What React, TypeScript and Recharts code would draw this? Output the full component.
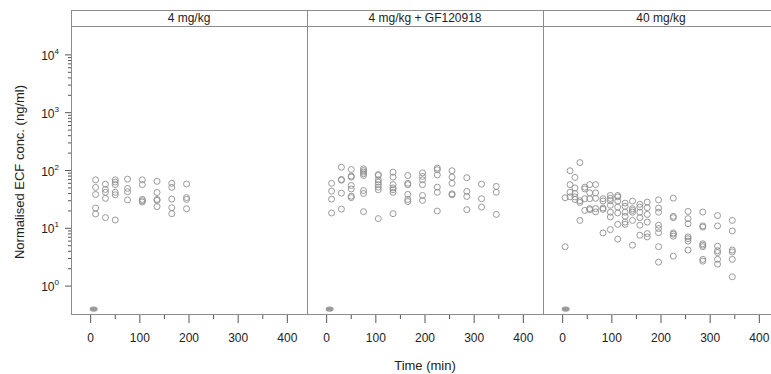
import { ScatterChart, Scatter, XAxis, YAxis } from "recharts";

const panelTitles = ["4 mg/kg", "4 mg/kg + GF120918", "40 mg/kg"];

// sampling times (min) and normalised ECF concentrations (ng/ml) per time point
const timesLow = [10, 30, 50, 75, 105, 135, 165, 195];
const concLow = [
  [69, 51, 38.5, 22.4, 17.7],
  [58, 47, 42, 33, 15.3],
  [69, 63, 57, 42, 38, 13.9],
  [71, 49, 43, 31],
  [69, 57, 31.6, 28.5, 30],
  [65, 41.7, 31.6, 30.4, 23.7],
  [60, 51, 32, 22.7, 17.9],
  [58.5, 34, 31.6, 21.8],
];

const timesInhib = [10, 30, 50, 75, 105, 135, 165, 195, 225, 255, 285, 315, 345];
const concInhib = [
  [60, 44, 32, 18.4],
  [114, 70, 68, 40.6, 21.5],
  [104, 80, 77, 55, 48, 36, 34],
  [107, 100, 94, 88, 82, 45, 40, 19.4],
  [85, 82, 69, 63, 57, 51.5, 46.5, 14.7],
  [93.5, 77, 57, 50, 46.5, 42, 17.9],
  [82, 60, 57, 38.6, 31.6, 29],
  [91, 79, 69, 57, 37, 30.4],
  [110, 103, 84, 51.5, 42, 19.9],
  [99, 77, 60, 39.6, 38],
  [75, 43.5, 35.6, 21],
  [58, 32.5, 23.3],
  [53, 42, 17.4],
];

const timesHigh = [5, 15, 25, 35, 45, 55, 67, 82, 97, 112, 127, 142, 157, 172, 195, 225, 255, 285, 315, 345];
const concHigh = [
  [33.8, 4.8],
  [99, 57, 42, 35],
  [76, 50, 40, 35, 31.6],
  [137, 30, 28, 13.7],
  [51.5, 48, 32.5, 20.4],
  [57, 41, 32.5, 21.9, 21],
  [57, 41, 33, 21.9, 19.2],
  [32.5, 29.6, 22.4, 21.3, 8.3],
  [37, 33, 30, 25, 19, 15.7, 9.5],
  [37, 35, 29.6, 23.3, 18.4, 11.7, 6.5],
  [27.3, 24, 19, 16.1, 12.8, 11.7],
  [29.6, 21.9, 20.4, 19, 13.7, 5.1],
  [26, 23.3, 19, 15.3, 11.3, 7.6],
  [28.4, 22.7, 17.4, 12.8, 8.1, 7.1],
  [31, 22.4, 19, 11.3, 9.9, 8.4, 4.8, 2.6],
  [33.3, 16.1, 15.3, 8.3, 7.9, 7.3, 3.3],
  [19.6, 14.7, 12, 7.1, 6.6, 6, 4.2],
  [19.1, 11, 10.5, 5.4, 5.1, 4.8, 2.9, 2.7],
  [16.6, 11, 4.9, 4.1, 3.8, 2.9, 2.4],
  [13.7, 9, 4.2, 3.9, 2.9, 1.45],
];

// below-limit marker drawn near t = 0 in each panel
const blqTime = [6];
const blqConc = [0.4];

const xTicks = [0, 50, 100, 150, 200, 250, 300, 350, 400];
const yDecades = [1, 10, 100, 1000, 10000];
const yMinorSteps = [2, 3, 4, 5, 6, 7, 8, 9];

const Y_DOMAIN: [number, number] = [Math.pow(10, -0.5), Math.pow(10, 4.5)];
const X_DOMAIN: [number, number] = [-40, 440];

const yTicks = yDecades.flatMap((d, i) =>
  i < yDecades.length - 1 ? [d, ...yMinorSteps.map((m) => m * d)] : [d]
);

const toRows = (times: number[], conc: number[][]) =>
  times.flatMap((t, i) => conc[i].map((c) => ({ t, c })));

const blqRows = blqTime.map((t, i) => ({ t, c: blqConc[i] }));

const FONT = "'Liberation Sans', Arial, sans-serif";
const FRAME = "#8c8c8c";
const TEXT = "#222";

const OpenCircle = (p: any) => (
  <circle cx={p.cx} cy={p.cy} r={3} fill="none" stroke="#8f8f8f" strokeWidth={0.9} />
);

const Blob = (p: any) => <ellipse cx={p.cx} cy={p.cy} rx={4} ry={2.6} fill="#9a9a9a" />;

const XTick = (p: any) => {
  const v = p.payload.value;
  const major = v % 100 === 0;
  return (
    <g>
      <line x1={p.x} x2={p.x} y1={p.y} y2={p.y + (major ? 8 : 4)} stroke="#555" />
      {major && (
        <text x={p.x} y={p.y + 27} textAnchor="middle" fontSize={12} fontFamily={FONT} fill={TEXT}>
          {v}
        </text>
      )}
    </g>
  );
};

const YTick = (p: any) => {
  const v = p.payload.value;
  const exp = Math.log10(v);
  const major = Math.abs(exp - Math.round(exp)) < 1e-6;
  return (
    <g>
      <line x1={p.x - (major ? 6 : 3)} x2={p.x} y1={p.y} y2={p.y} stroke="#555" />
      {major && (
        <text x={p.x - 12} y={p.y + 5} textAnchor="end" fontSize={12} fontFamily={FONT} fill={TEXT}>
          10
          <tspan fontSize={8} dy={-6}>
            {Math.round(exp)}
          </tspan>
        </text>
      )}
    </g>
  );
};

function Panel({
  left,
  width,
  rows,
  showY,
}: {
  left: number;
  width: number;
  rows: { t: number; c: number }[];
  showY: boolean;
}) {
  return (
    <div style={{ position: "absolute", left, top: 0 }}>
      <ScatterChart width={width} height={374} margin={{ top: 26, right: 0, bottom: 29, left: 0 }}>
        <XAxis
          type="number"
          dataKey="t"
          domain={X_DOMAIN}
          allowDataOverflow
          ticks={xTicks}
          interval={0}
          tick={<XTick />}
          tickLine={false}
          axisLine={false}
          tickSize={0}
          tickMargin={0}
          height={30}
        />
        <YAxis
          type="number"
          dataKey="c"
          scale="log"
          domain={Y_DOMAIN}
          allowDataOverflow
          ticks={yTicks}
          interval={0}
          tick={<YTick />}
          tickLine={false}
          axisLine={false}
          tickSize={0}
          tickMargin={0}
          width={71}
          hide={!showY}
        />
        <Scatter data={rows} shape={OpenCircle} isAnimationActive={false} />
        <Scatter data={blqRows} shape={Blob} isAnimationActive={false} />
      </ScatterChart>
    </div>
  );
}

export default function App() {
  const panelLefts = [71, 307, 543];
  const panelW = 236;
  return (
    <div
      style={{
        position: "absolute",
        left: 0,
        top: 0,
        width: 771,
        height: 374,
        overflow: "hidden",
        background: "#fff",
        fontFamily: FONT,
      }}
    >
      <Panel left={0} width={307} rows={toRows(timesLow, concLow)} showY />
      <Panel left={307} width={panelW} rows={toRows(timesInhib, concInhib)} showY={false} />
      <Panel left={543} width={panelW} rows={toRows(timesHigh, concHigh)} showY={false} />

      {/* frame: strips + plot boxes */}
      <div
        style={{
          position: "absolute",
          left: 71,
          top: 10,
          width: panelW * 3,
          height: 305,
          border: `1px solid ${FRAME}`,
          boxSizing: "border-box",
          pointerEvents: "none",
        }}
      />
      <div style={{ position: "absolute", left: 71, top: 26, width: panelW * 3, height: 1, background: FRAME }} />
      {panelLefts.slice(1).map((l) => (
        <div key={l} style={{ position: "absolute", left: l, top: 10, width: 1, height: 305, background: FRAME }} />
      ))}
      {panelTitles.map((t, i) => (
        <div
          key={t}
          style={{
            position: "absolute",
            left: panelLefts[i],
            top: 11,
            width: panelW,
            height: 15,
            lineHeight: "15px",
            textAlign: "center",
            fontSize: 12,
            color: TEXT,
          }}
        >
          {t}
        </div>
      ))}

      <div
        style={{
          position: "absolute",
          left: 20 - 110,
          top: 172 - 9,
          width: 220,
          height: 18,
          lineHeight: "18px",
          textAlign: "center",
          fontSize: 13,
          color: TEXT,
          transform: "rotate(-90deg)",
        }}
      >
        Normalised ECF conc. (ng/ml)
      </div>
      <div
        style={{
          position: "absolute",
          left: 325,
          top: 358,
          width: 200,
          textAlign: "center",
          fontSize: 13,
          color: TEXT,
        }}
      >
        Time (min)
      </div>
    </div>
  );
}
